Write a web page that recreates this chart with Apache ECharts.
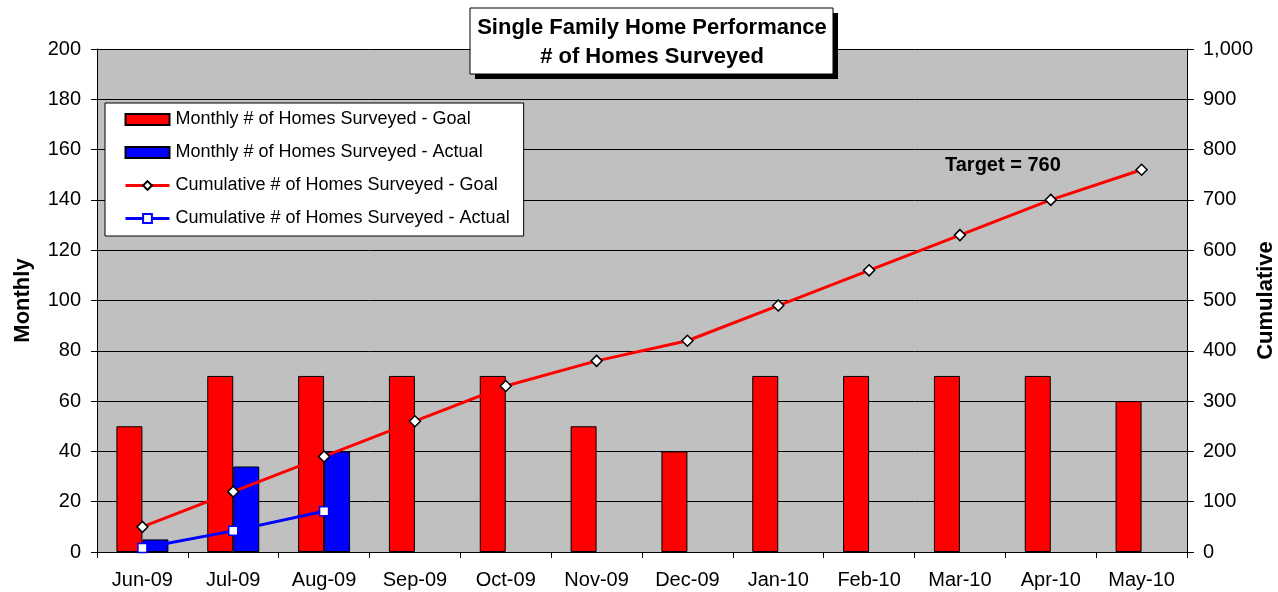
<!DOCTYPE html>
<html><head><meta charset="utf-8">
<script src="https://cdn.jsdelivr.net/npm/echarts@6/dist/echarts.min.js"></script>
<style>html,body{margin:0;padding:0;background:#fff}#c{width:1278px;height:592px}</style>
</head><body><div id="c"></div>
<script>
const categories = ['Jun-09','Jul-09','Aug-09','Sep-09','Oct-09','Nov-09','Dec-09','Jan-10','Feb-10','Mar-10','Apr-10','May-10'];
const monthlyGoal = [50,70,70,70,70,50,40,70,70,70,70,60];
const monthlyActual = [5,34,40,null,null,null,null,null,null,null,null,null];
const cumulativeGoal = [50,120,190,260,330,380,420,490,560,630,700,760];
const cumulativeActual = [8,42,81,null,null,null,null,null,null,null,null,null];
const seriesNames = ['Monthly # of Homes Surveyed - Goal','Monthly # of Homes Surveyed - Actual','Cumulative # of Homes Surveyed - Goal','Cumulative # of Homes Surveyed - Actual'];
const titleLines = ['Single Family Home Performance','# of Homes Surveyed'];
const targetLabel = 'Target = 760';

const FONT = 'Liberation Sans, Arial, sans-serif';
const chart = echarts.init(document.getElementById('c'));
chart.setOption({
  animation:false,
  backgroundColor:'#fff',
  textStyle:{fontFamily:FONT,color:'#000'},
  grid:{left:97,right:91,top:49,bottom:40,show:true,backgroundColor:'#C0C0C0',borderWidth:0,
    outerBoundsMode:'none',containLabel:false},
  legend:{
    orient:'vertical',left:105,top:103,
    backgroundColor:'#fff',borderColor:'#000',borderWidth:1,
    padding:[7,14,8,19],
    itemWidth:44,itemHeight:11,itemGap:14,
    lineStyle:{width:3},
    textStyle:{fontFamily:FONT,fontSize:18,color:'#000',lineHeight:19,padding:[0,0,0,1]},
    data:[
      {name:seriesNames[0],icon:'rect'},
      {name:seriesNames[1],icon:'rect'},
      {name:seriesNames[2]},
      {name:seriesNames[3]}
    ]
  },
  xAxis:{
    type:'category',data:categories,boundaryGap:true,
    axisLine:{lineStyle:{color:'#000',width:1}},
    axisTick:{show:true,inside:false,length:6,lineStyle:{color:'#000'}},
    axisLabel:{fontFamily:FONT,fontSize:20,color:'#000',margin:18,interval:0}
  },
  yAxis:[{
    type:'value',min:0,max:200,interval:20,
    name:'Monthly',nameLocation:'middle',nameRotate:90,nameGap:63,nameMoveOverlap:false,
    nameTextStyle:{fontFamily:FONT,fontSize:22,fontWeight:'bold',color:'#000'},
    axisLine:{show:true,lineStyle:{color:'#000'}},
    axisTick:{show:true,length:6,lineStyle:{color:'#000'}},
    axisLabel:{fontFamily:FONT,fontSize:20,color:'#000',margin:16},
    splitLine:{show:true,lineStyle:{color:'#000',width:1}}
  },{
    type:'value',min:0,max:1000,interval:100,position:'right',
    name:'Cumulative',nameLocation:'middle',nameRotate:90,nameGap:68,nameMoveOverlap:false,
    nameTextStyle:{fontFamily:FONT,fontSize:22,fontWeight:'bold',color:'#000'},
    axisLine:{show:true,lineStyle:{color:'#000'}},
    axisTick:{show:true,length:7,lineStyle:{color:'#000'}},
    axisLabel:{fontFamily:FONT,fontSize:20,color:'#000',margin:16,
      formatter:v=>v.toLocaleString('en-US')},
    splitLine:{show:false}
  }],
  series:[{
    name:seriesNames[0],type:'bar',data:monthlyGoal,barWidth:26,barGap:'0%',
    itemStyle:{color:'#FF0000',borderColor:'#000',borderWidth:1}
  },{
    name:seriesNames[1],type:'bar',data:monthlyActual,barWidth:26,barGap:'0%',
    itemStyle:{color:'#0000FF',borderColor:'#000',borderWidth:1}
  },{
    name:seriesNames[2],type:'line',yAxisIndex:1,data:cumulativeGoal,
    symbol:'diamond',symbolSize:11,showAllSymbol:true,
    lineStyle:{color:'#FF0000',width:3},
    itemStyle:{color:'#fff',borderColor:'#000',borderWidth:1.5},z:5
  },{
    name:seriesNames[3],type:'line',yAxisIndex:1,data:cumulativeActual,
    symbol:'rect',symbolSize:9,showAllSymbol:true,
    lineStyle:{color:'#0000FF',width:3},
    itemStyle:{color:'#fff',borderColor:'#0000FF',borderWidth:1.5},z:5
  }],
  graphic:[
    {type:'rect',x:475,y:13,shape:{width:363,height:66},style:{fill:'#000'},z:10},
    {type:'rect',x:470,y:8,shape:{width:363,height:66},style:{fill:'#fff',stroke:'#000',lineWidth:1},z:11},
    {type:'text',x:652,y:28,z:12,
      style:{text:titleLines[0],font:'bold 22px '+FONT,fill:'#000',textAlign:'center',textVerticalAlign:'middle'}},
    {type:'text',x:652,y:57,z:12,
      style:{text:titleLines[1],font:'bold 22px '+FONT,fill:'#000',textAlign:'center',textVerticalAlign:'middle'}},
    {type:'text',x:945,y:165,z:12,
      style:{text:targetLabel,font:'bold 20px '+FONT,fill:'#000',textAlign:'left',textVerticalAlign:'middle'}}
  ]
});
</script></body></html>
